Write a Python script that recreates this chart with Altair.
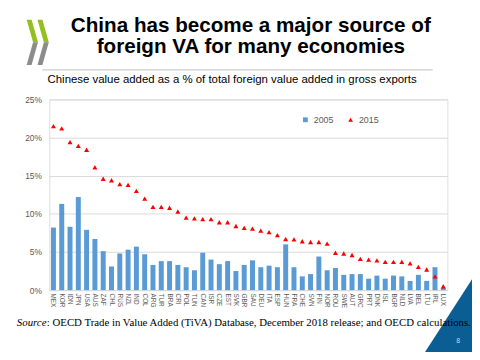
import altair as alt
import pandas as pd

countries = ["MEX", "KOR", "IDN", "JPN", "USA", "AUS", "ZAF", "CHL", "RUS", "NZL",
             "IND", "COL", "ARG", "TUR", "BRA", "CRI", "POL", "TUN", "CAN", "ISR",
             "CZE", "EST", "SVK", "GBR", "SAU", "DEU", "ITA", "ESP", "HUN", "FRA",
             "CHE", "SVN", "FIN", "NOR", "ROU", "SWE", "AUT", "GRC", "PRT", "DNK",
             "ISL", "BGR", "NLD", "LVA", "BEL", "LTU", "IRL", "LUX"]
share_2005 = [8.2, 11.3, 8.3, 12.2, 7.9, 6.7, 5.1, 3.1, 4.8, 5.3,
              5.7, 4.7, 3.3, 3.8, 3.8, 3.3, 3.0, 2.6, 4.9, 4.0,
              3.4, 3.8, 2.5, 3.3, 3.9, 3.0, 3.2, 3.0, 6.0, 3.0,
              1.8, 2.1, 4.4, 2.6, 2.9, 2.0, 2.1, 2.1, 1.5, 1.9,
              1.5, 1.9, 1.8, 1.2, 2.0, 1.2, 3.0, 0.3]
share_2015 = [21.5, 21.2, 19.4, 18.9, 18.4, 16.1, 14.6, 14.4, 13.9, 13.8,
              13.0, 12.0, 10.9, 10.9, 10.8, 10.3, 9.5, 9.4, 9.3, 9.3,
              8.9, 8.9, 8.4, 8.15, 8.05, 7.8, 7.6, 7.2, 6.7, 6.65,
              6.4, 6.3, 6.3, 6.1, 4.9, 4.8, 4.6, 4.1, 4.0, 3.9,
              3.7, 3.7, 3.7, 3.5, 3.05, 2.7, 1.8, 0.5]
years = ["2005", "2015"]
y_ticks = [0, 5, 10, 15, 20, 25]

title_lines = ["China has become a major source of", "foreign VA for many economies"]
subtitle = "Chinese value added as a % of total foreign value added in gross exports"
source_label = "Source"
source_rest = ": OECD Trade in Value Added (TiVA) Database, December 2018 release; and OECD calculations."
page_number = "8"

n = len(countries)
df = pd.DataFrame({
    "country": countries * 2,
    "year": [years[0]] * n + [years[1]] * n,
    "value": share_2005 + share_2015,
})

FONT = "Liberation Sans"
GREY = "#595959"

# plot area origin on the page (for decorations)
OX, OY = 50, 98


def poly(points):
    pts = [(x - OX, y - OY) for x, y in points]
    s = "M %.1f %.1f " % pts[0]
    s += " ".join("L %.1f %.1f" % p for p in pts[1:])
    return s + " Z"


def shape_layer(points, color):
    return alt.Chart(alt.Data(values=[{}])).mark_point(
        shape=poly(points), size=4, filled=True, fill=color, color=color,
        opacity=1, strokeWidth=0
    ).encode(x=alt.value(0), y=alt.value(0))


def text_layer(text, px, py, **kw):
    return alt.Chart(alt.Data(values=[{}])).mark_text(text=text, **kw).encode(
        x=alt.value(px - OX), y=alt.value(py - OY))


legend = alt.Legend(title=None, orient="none", legendX=256, legendY=16,
                    direction="horizontal", symbolSize=24, labelFontSize=9,
                    labelColor=GREY, labelFont=FONT, columnPadding=12,
                    labelOffset=4, padding=0)

x_enc = alt.X("country:N", sort=countries,
              scale=alt.Scale(paddingInner=0.4, paddingOuter=0.2),
              axis=alt.Axis(title=None, labelAngle=90, labelFontSize=6.5,
                            labelColor=GREY, labelFont=FONT, ticks=False,
                            domain=True, domainColor="#d9d9d9", labelPadding=3,
                            labelOverlap=False))
y_enc = alt.Y("value:Q", scale=alt.Scale(domain=[0, 25]),
              axis=alt.Axis(title=None, values=y_ticks,
                            labelExpr="datum.value + '%'", grid=True,
                            gridColor="#d9d9d9", domain=False, ticks=False,
                            labelFontSize=8.5, labelColor=GREY, labelFont=FONT,
                            labelPadding=8))
color_enc = alt.Color("year:N", scale=alt.Scale(domain=years, range=["#5B9BD5", "#FF0000"]),
                      legend=legend)
shape_enc = alt.Shape("year:N", scale=alt.Scale(domain=years, range=["square", "triangle-up"]),
                      legend=legend)

bars = alt.Chart(df).transform_filter("datum.year == '2005'").mark_bar().encode(
    x=x_enc, y=y_enc, color=color_enc)
points = alt.Chart(df).transform_filter("datum.year == '2015'").mark_point(
    filled=True, size=26, opacity=1).encode(
    x=x_enc, y=y_enc, color=color_enc, shape=shape_enc)

green = "#93C01F"
gray = "#8C8C8C"
logo = [
    shape_layer([(27, 17), (32, 17), (38.5, 40), (33.5, 40)], green),
    shape_layer([(33.5, 40), (38.5, 40), (32, 63), (27, 63)], gray),
    shape_layer([(38, 17), (43, 17), (49.5, 40), (44.5, 40)], green),
    shape_layer([(44.5, 40), (49.5, 40), (43, 63), (38, 63)], gray),
]
corner = shape_layer([(429, 360), (480, 360), (480, 281)], "#0B5E94")

rule = alt.Chart(alt.Data(values=[{}])).mark_rule(color="#bfbfbf", strokeWidth=1).encode(
    x=alt.value(43 - OX), x2=alt.value(440 - OX), y=alt.value(68 - OY))

title = text_layer(title_lines, 255, 29, font=FONT, fontSize=21, fontWeight="bold",
                   align="center", baseline="alphabetic", lineHeight=21.5, color="#000000")
sub = text_layer(subtitle, 236, 81, font=FONT, fontSize=11.6, align="center",
                 baseline="alphabetic", color="#000000")
src1 = text_layer(source_label, 17, 329, font="Liberation Serif", fontSize=11,
                  fontStyle="italic", align="left", baseline="alphabetic", color="#000000")
src2 = text_layer(source_rest, 47.5, 329, font="Liberation Serif", fontSize=11,
                  align="left", baseline="alphabetic", color="#000000")
pnum = text_layer(page_number, 466, 346, font=FONT, fontSize=7, align="center",
                  baseline="alphabetic", color="#c9d9e8")

chart = alt.layer(
    *logo, corner, rule, title, sub, src1, src2, pnum, bars, points
).resolve_scale(color="shared", shape="shared").properties(
    width=405, height=194,
    autosize=alt.AutoSizeParams(type="none"),
    padding={"left": 42, "top": 90, "right": 25, "bottom": 60},
).configure_view(stroke=None).configure(background="white")

chart.save("out.html", embed_options={"renderer": "svg", "actions": False})
